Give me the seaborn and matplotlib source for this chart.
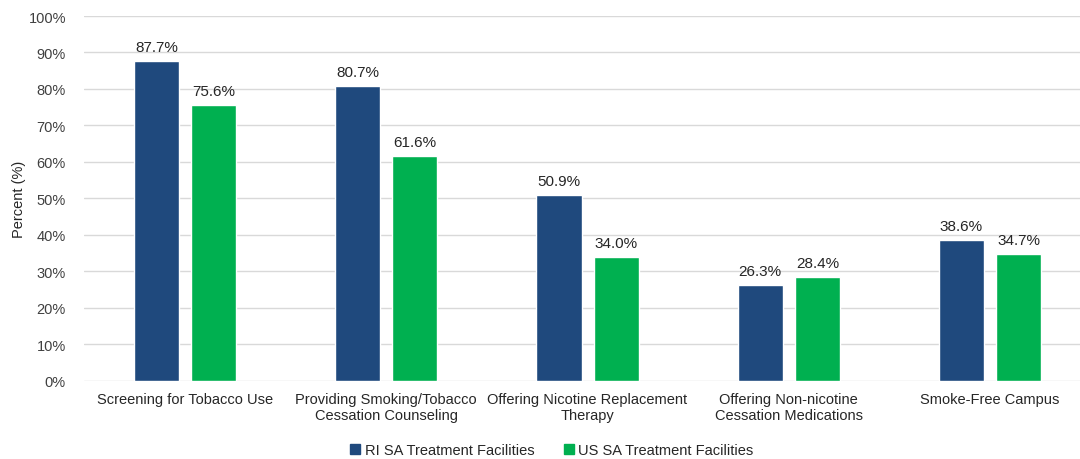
import pandas as pd
import matplotlib.pyplot as plt
import seaborn as sns

# Data
categories = ['Screening for Tobacco Use',
              'Providing Smoking/Tobacco\nCessation Counseling',
              'Offering Nicotine Replacement\nTherapy',
              'Offering Non-nicotine\nCessation Medications',
              'Smoke-Free Campus']
ri_values = [87.7, 80.7, 50.9, 26.3, 38.6]
us_values = [75.6, 61.6, 34.0, 28.4, 34.7]
series = ['RI SA Treatment Facilities', 'US SA Treatment Facilities']
colors = ['#1F497D', '#00B050']

df = pd.DataFrame({
    'Category': categories * 2,
    'Percent': ri_values + us_values,
    'Group': [series[0]] * len(categories) + [series[1]] * len(categories),
})

sns.set_style('white')
plt.rcParams['font.family'] = ['Liberation Sans', 'DejaVu Sans']

fig = plt.figure(figsize=(10.8, 4.6), dpi=100)
ax = fig.add_axes([84 / 1080, 0.17, 996 / 1080, 0.793])

sns.barplot(data=df, x='Category', y='Percent', hue='Group', palette=colors,
            width=0.567, gap=0.21, ax=ax, saturation=1, zorder=3, legend=False)

for container in ax.containers:
    ax.bar_label(container, fmt='%.1f%%', padding=5, fontsize=11,
                 color='#262626')

ax.set_ylim(0, 100)
ax.set_yticks(range(0, 101, 10))
ax.set_yticklabels([f'{v}%' for v in range(0, 101, 10)], fontsize=10.5, color='#404040')
ax.tick_params(axis='x', labelsize=10.5, labelcolor='#262626', length=0, pad=8)
ax.tick_params(axis='y', length=0, pad=13)
ax.grid(axis='y', color='#D9D9D9', linewidth=1, zorder=0)
ax.set_xlim(-0.502, 4.447)
ax.set_xlabel('')
ax.set_ylabel('Percent (%)', fontsize=10.5, color='#262626')
ax.yaxis.set_label_coords(-0.058, 0.5)
sns.despine(ax=ax, left=True, bottom=True)

handles = [plt.Rectangle((0, 0), 1, 1, color=c) for c in colors]
fig.legend(handles, series, loc='center', bbox_to_anchor=(0.511, 0.02), ncol=2,
           frameon=False, fontsize=10.5, handlelength=0.7, handleheight=0.7,
           handletextpad=0.3, columnspacing=2.0)

plt.savefig('out.png', dpi=100)
